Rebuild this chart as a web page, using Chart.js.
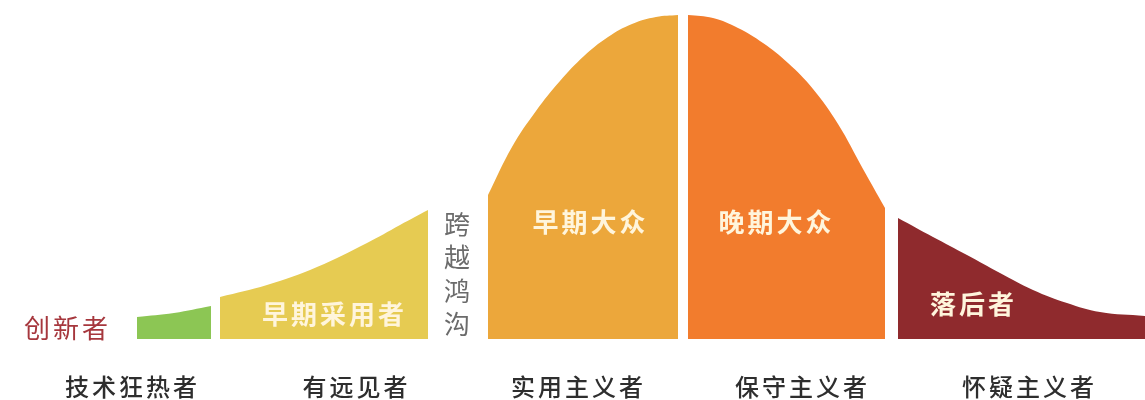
<!DOCTYPE html>
<html>
<head>
<meta charset="utf-8">
<title>技术采用生命周期</title>
<script src="https://cdn.jsdelivr.net/npm/chart.js@4.4.1/dist/chart.umd.min.js"></script>
<style>
  html, body { margin: 0; padding: 0; background: #fff; }
  #wrap { width: 1145px; height: 400px; }
</style>
</head>
<body>
<div id="wrap"><canvas id="adoption" width="1145" height="400"></canvas></div>
<script>
// 每段曲线的横坐标与高度（以底线为 0）
const innovatorsX = [137, 174, 211];
const innovatorsY = [22, 26, 33];

const earlyAdoptersX = [220, 267, 317, 367, 400, 428];
const earlyAdoptersY = [42, 54, 72, 96, 114, 129];

const earlyMajorityX = [488, 512, 536, 560, 584, 608, 632, 656, 678];
const earlyMajorityY = [144, 192, 228, 258, 283, 302, 315, 322, 324];

const lateMajorityX = [688, 713, 738, 763, 788, 813, 838, 863, 885];
const lateMajorityY = [324, 321, 311, 296, 276, 250, 215, 170, 131];

const laggardsX = [898, 933, 967, 1000, 1033, 1067, 1100, 1145];
const laggardsY = [121, 102, 84, 66, 49, 36, 27, 23];

// 曲线内的标签
const segmentLabels = ["早期采用者", "早期大众", "晚期大众", "落后者"];
// 底部的人群类型
const groupLabels = ["技术狂热者", "有远见者", "实用主义者", "保守主义者", "怀疑主义者"];

const colors = ["#8cc654", "#e6cb52", "#eca73b", "#f27c2d", "#8f2a2d"];

const toPoints = (xs, ys) => xs.map((x, i) => ({ x: x, y: ys[i] }));

const segment = (xs, ys, color) => ({
  data: toPoints(xs, ys),
  backgroundColor: color,
  borderColor: color,
  borderWidth: 0,
  pointRadius: 0,
  fill: 'origin',
  tension: 0.4
});

const FONT = '"Noto Sans CJK SC", "Noto Sans", sans-serif';

// 文字说明：段内标签、跨越鸿沟、创新者、底部分组
const textPlugin = {
  id: 'adoptionText',
  afterDatasetsDraw(chart) {
    const ctx = chart.ctx;
    const xs = chart.scales.x;
    const ys = chart.scales.y;
    const px = v => xs.getPixelForValue(v);
    const py = v => ys.getPixelForValue(v);

    ctx.save();
    ctx.textAlign = 'center';
    ctx.textBaseline = 'middle';
    ctx.letterSpacing = '3px';

    // 段内标签
    ctx.fillStyle = '#fff5dc';
    ctx.font = 'bold 26px ' + FONT;
    const inner = [[333, 25], [589, 117], [775, 117], [972, 35]];
    inner.forEach((p, i) => ctx.fillText(segmentLabels[i], px(p[0]) + 1.5, py(p[1])));

    // 创新者
    ctx.fillStyle = '#a6373d';
    ctx.font = '26px ' + FONT;
    ctx.fillText('创新者', px(66) + 1.5, py(11));

    // 跨越鸿沟（竖排）
    ctx.fillStyle = '#6b6b6b';
    ctx.letterSpacing = '0px';
    ctx.font = '26px ' + FONT;
    const gapChars = '跨越鸿沟'.split('');
    gapChars.forEach((c, i) => ctx.fillText(c, px(457), py(115 - i * 33.5)));

    // 底部分组
    ctx.fillStyle = '#2e2e2e';
    ctx.letterSpacing = '3px';
    ctx.font = '500 24px ' + FONT;
    const groupX = [131, 355, 577, 801, 1028];
    groupLabels.forEach((t, i) => ctx.fillText(t, px(groupX[i]) + 1.5, py(-48)));

    ctx.restore();
  }
};

new Chart(document.getElementById('adoption'), {
  type: 'line',
  data: {
    datasets: [
      segment(innovatorsX, innovatorsY, colors[0]),
      segment(earlyAdoptersX, earlyAdoptersY, colors[1]),
      segment(earlyMajorityX, earlyMajorityY, colors[2]),
      segment(lateMajorityX, lateMajorityY, colors[3]),
      segment(laggardsX, laggardsY, colors[4])
    ]
  },
  options: {
    responsive: false,
    animation: false,
    layout: { padding: 0 },
    plugins: {
      legend: { display: false },
      tooltip: { enabled: false }
    },
    scales: {
      x: { type: 'linear', min: 0, max: 1145, display: false },
      y: { min: -61, max: 339, display: false }
    }
  },
  plugins: [textPlugin]
});
</script>
</body>
</html>
